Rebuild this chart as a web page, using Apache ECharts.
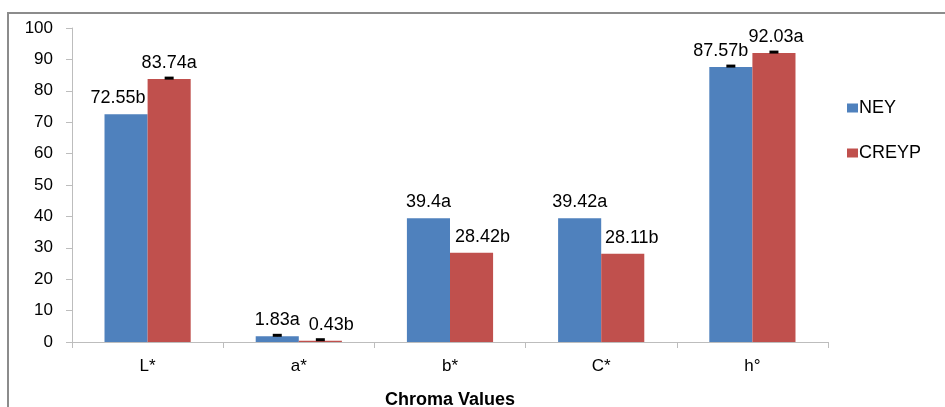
<!DOCTYPE html>
<html>
<head>
<meta charset="utf-8">
<script src="https://cdn.jsdelivr.net/npm/echarts@6/dist/echarts.min.js"></script>
<style>
  html, body { margin: 0; padding: 0; background: #fff; }
  #chart { width: 945px; height: 407px; }
</style>
</head>
<body>
<div id="chart"></div>
<script>
// Colour attributes of the two yolk samples
const categories = ['L*', 'a*', 'b*', 'C*', 'h\u00B0'];
const neyValues = [72.55, 1.83, 39.4, 39.42, 87.57];
const creypValues = [83.74, 0.43, 28.42, 28.11, 92.03];
const neyLetters = ['b', 'a', 'a', 'a', 'b'];
const creypLetters = ['a', 'b', 'b', 'b', 'a'];
// standard errors (null = not shown)
const neyErrors = [null, 0.3, null, null, 0.3];
const creypErrors = [0.3, 0.3, null, null, 0.3];
const yTicks = [0, 10, 20, 30, 40, 50, 60, 70, 80, 90, 100];

// horizontal nudges keeping neighbouring labels apart
const neyLabelShift = [-8, 0, 0, 0, -10];
const creypLabelShift = [0, 11, 11, 9, 2];

const BAR_FRAC = 0.285;
const textFont = 'Liberation Sans, Arial, sans-serif';

function barSeries(name, values, letters, shifts, color) {
  return {
    name: name,
    type: 'bar',
    barWidth: (BAR_FRAC * 100) + '%',
    barGap: '0%',
    itemStyle: { color: color },
    data: values.map((v, i) => ({
      value: v,
      label: {
        show: true,
        position: 'top',
        distance: 7,
        offset: [shifts[i], 0],
        formatter: () => v + letters[i],
        color: '#000',
        fontSize: 18,
        fontFamily: textFont
      }
    }))
  };
}

function errorSeries(values, errors, side) {
  const data = [];
  values.forEach((v, i) => { if (errors[i] != null) data.push([i, v, errors[i]]); });
  return {
    type: 'custom',
    silent: true,
    z: 5,
    data: data,
    renderItem: function (params, api) {
      const idx = api.value(0);
      const val = api.value(1);
      const err = api.value(2);
      const catW = api.size([1, 0])[0];
      const dx = side * catW * BAR_FRAC / 2;
      const base = api.coord([idx, val]);
      const top = api.coord([idx, val + err]);
      const x = base[0] + dx;
      return {
        type: 'group',
        children: [
          { type: 'line', shape: { x1: x, y1: base[1], x2: x, y2: top[1] },
            style: { stroke: '#000', lineWidth: 1 } },
          { type: 'rect', shape: { x: x - 4.5, y: top[1] - 1.5, width: 9, height: 3 },
            style: { fill: '#000' } }
        ]
      };
    }
  };
}

const chart = echarts.init(document.getElementById('chart'), null, { renderer: 'canvas' });
chart.setOption({
  animation: false,
  backgroundColor: '#fff',
  graphic: [{
    type: 'rect',
    shape: { x: 8, y: 13, width: 1000, height: 500 },
    style: { fill: 'none', stroke: '#8c8c8c', lineWidth: 2 },
    z: -1
  }],
  grid: { left: 72, right: 117, top: 28, bottom: 65, containLabel: false, outerBoundsMode: 'none' },
  legend: {
    orient: 'vertical',
    left: 842,
    top: 94,
    itemWidth: 11,
    itemHeight: 9,
    itemGap: 27,
    icon: 'rect',
    textStyle: { color: '#000', fontSize: 18, fontFamily: textFont, padding: [0, 0, 0, -4] },
    data: ['NEY', 'CREYP']
  },
  xAxis: {
    type: 'category',
    data: categories,
    name: 'Chroma Values',
    nameLocation: 'middle',
    nameGap: 49,
    nameTextStyle: { color: '#000', fontSize: 18, fontWeight: 'bold', fontFamily: textFont },
    axisLine: { lineStyle: { color: '#bdbdbd', width: 1 } },
    axisTick: { show: true, length: 6, lineStyle: { color: '#bdbdbd' } },
    axisLabel: { color: '#000', fontSize: 17, fontFamily: textFont, margin: 16 }
  },
  yAxis: {
    type: 'value',
    min: yTicks[0],
    max: yTicks[yTicks.length - 1],
    interval: yTicks[1] - yTicks[0],
    splitLine: { show: false },
    axisLine: { show: true, lineStyle: { color: '#bdbdbd', width: 1 } },
    axisTick: { show: true, length: 6, lineStyle: { color: '#bdbdbd' } },
    axisLabel: { color: '#000', fontSize: 17, fontFamily: textFont, margin: 19 }
  },
  series: [
    barSeries('NEY', neyValues, neyLetters, neyLabelShift, '#4F81BD'),
    barSeries('CREYP', creypValues, creypLetters, creypLabelShift, '#C0504D'),
    errorSeries(neyValues, neyErrors, -1),
    errorSeries(creypValues, creypErrors, 1)
  ]
});
</script>
</body>
</html>
